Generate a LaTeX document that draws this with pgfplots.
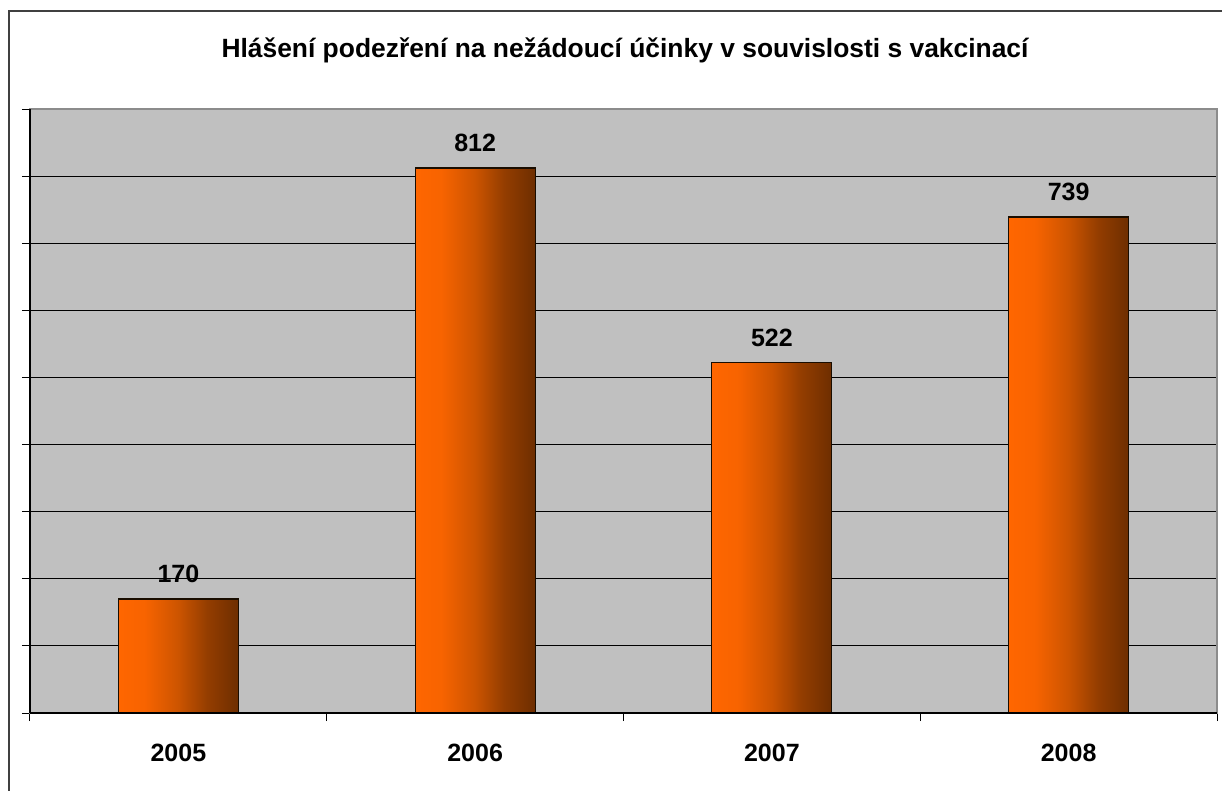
\documentclass[border=0pt]{standalone}
\usepackage{pgfplots}
\pgfplotsset{compat=1.18}
\usepackage{fontspec}
\setmainfont{Liberation Sans}
\definecolor{plotgray}{HTML}{C0C0C0}
\definecolor{framegray}{HTML}{8C8C8C}
\pgfdeclarehorizontalshading{barshade}{100bp}{%
  rgb(0bp)=(1,0.4,0);
  rgb(25bp)=(1,0.4,0);
  rgb(36bp)=(0.97,0.39,0);
  rgb(50bp)=(0.80,0.33,0);
  rgb(62bp)=(0.58,0.24,0);
  rgb(75bp)=(0.43,0.18,0);
  rgb(100bp)=(0.43,0.18,0)}
\begin{document}
\begin{tikzpicture}
\useasboundingbox (0,0) rectangle (611pt,-395.5pt);
\draw[line width=1.2pt, color=black!75] (4.5pt,-400pt) -- (4.5pt,-5.5pt) -- (620pt,-5.5pt);
\node[font=\bfseries\fontsize{13.2}{15}\selectfont] at (312.5pt,-25pt) {Hlášení podezření na nežádoucí účinky v souvislosti s vakcinací};
\begin{axis}[
  at={(15pt,-356.5pt)}, anchor=south west,
  scale only axis, width=593.5pt, height=302pt,
  xmin=-0.5, xmax=3.5, ymin=0, ymax=900,
  axis background/.style={fill=plotgray},
  axis line style={draw=framegray, line width=0.6pt},
  xtick={0,1,2,3},
  xticklabels={2005,2006,2007,2008},
  major x tick style={draw=none},
  minor xtick={-0.5,0.5,1.5,2.5,3.5},
  minor x tick style={draw=black, line width=0.5pt},
  minor tick length=4pt,
  xticklabel style={font=\bfseries\fontsize{12.5}{14}\selectfont, yshift=-8pt},
  ytick={0,100,...,800},
  extra y ticks={900},
  extra y tick labels={},
  extra y tick style={grid=none, tick align=outside, major tick length=4pt},
  yticklabels={},
  ymajorgrids,
  grid style={black, line width=0.6pt},
  y tick style={draw=black, line width=0.5pt},
  tick align=outside, major tick length=4pt,
  tick pos=left,
  ybar, bar width=60pt, bar shift=0pt,
  nodes near coords,
  /pgf/number format/assume math mode=true,
  every node near coord/.append style={font=\bfseries\fontsize{12.5}{14}\selectfont, black, yshift=4.5pt},
  clip=false,
]
\addplot[draw=black!90!orange, line width=0.6pt, shading=barshade] coordinates {(0,170)};
\addplot[draw=black!90!orange, line width=0.6pt, shading=barshade] coordinates {(1,812)};
\addplot[draw=black!90!orange, line width=0.6pt, shading=barshade] coordinates {(2,522)};
\addplot[draw=black!90!orange, line width=0.6pt, shading=barshade] coordinates {(3,739)};
\draw[black, line width=0.6pt] (axis cs:-0.5,0) -- (axis cs:3.5,0);
\draw[black, line width=0.6pt] (axis cs:-0.5,0) -- (axis cs:-0.5,900);
\end{axis}
\end{tikzpicture}
\end{document}
